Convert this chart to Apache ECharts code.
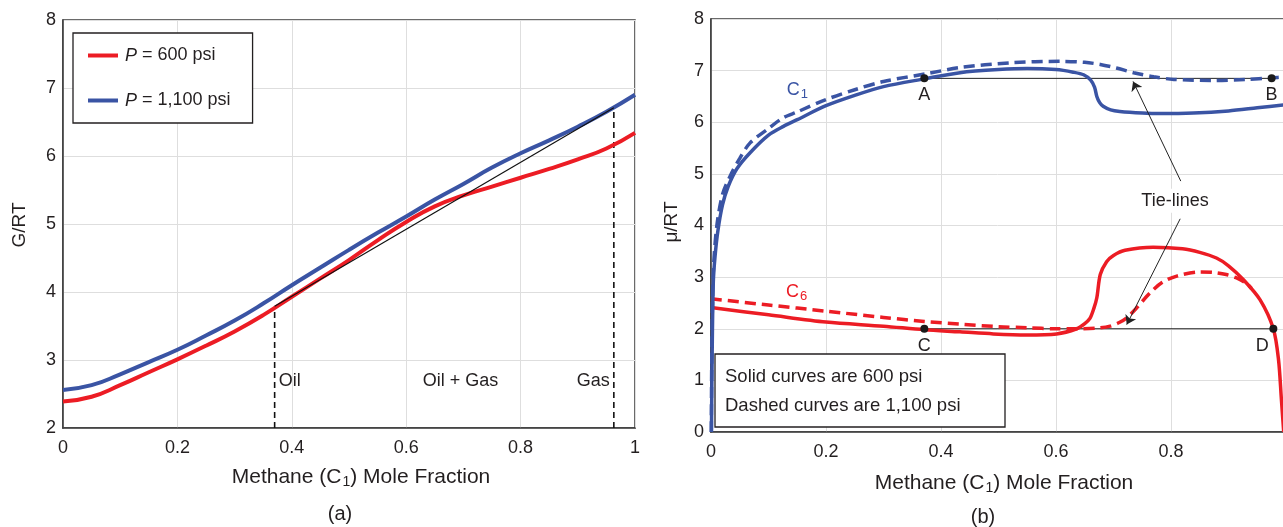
<!DOCTYPE html>
<html>
<head>
<meta charset="utf-8">
<script src="https://cdn.jsdelivr.net/npm/echarts@6/dist/echarts.min.js"></script>
<style>
html, body { margin: 0; padding: 0; background: #fff; }
#chart { width: 1283px; height: 527px; }
</style>
</head>
<body>
<div id="chart"></div>
<script>
// ---- (a) Gibbs energy of mixing, G/RT vs methane mole fraction ----
const gibbs600 = [
  [0, 2.39], [0.05, 2.46], [0.1, 2.63], [0.15, 2.82], [0.2, 3.01], [0.25, 3.21],
  [0.3, 3.42], [0.35, 3.66], [0.4, 3.93], [0.45, 4.20], [0.5, 4.47], [0.55, 4.76],
  [0.6, 5.03], [0.65, 5.26], [0.7, 5.42], [0.75, 5.55], [0.8, 5.68], [0.85, 5.81],
  [0.9, 5.95], [0.95, 6.11], [1.0, 6.34]
];
const gibbs1100 = [
  [0, 2.56], [0.05, 2.63], [0.1, 2.79], [0.15, 2.97], [0.2, 3.15], [0.25, 3.36],
  [0.3, 3.58], [0.35, 3.83], [0.4, 4.10], [0.45, 4.36], [0.5, 4.62], [0.55, 4.87],
  [0.6, 5.11], [0.65, 5.36], [0.7, 5.59], [0.75, 5.83], [0.8, 6.04], [0.85, 6.23],
  [0.9, 6.43], [0.95, 6.65], [1.0, 6.90]
];
const tangentLine = [[0.37, 3.79], [0.963, 6.71]];
const oilBoundary = [[0.37, 2], [0.37, 3.79]];
const gasBoundary = [[0.963, 2], [0.963, 6.71]];
const regionLabels = [
  { name: 'Oil', value: [0.37, 2.69], pos: 'right' },
  { name: 'Oil + Gas', value: [0.695, 2.69], pos: 'inside' },
  { name: 'Gas', value: [0.963, 2.69], pos: 'left' }
];

// ---- (b) chemical potentials, mu/RT vs methane mole fraction ----
const c1Solid = [
  [0.0008, 0], [0.002, 1.5], [0.004, 2.9], [0.007, 3.4], [0.012, 3.9], [0.02, 4.4],
  [0.03, 4.76], [0.045, 5.1], [0.068, 5.41], [0.1, 5.75], [0.126, 5.92], [0.15, 6.05],
  [0.2, 6.32], [0.25, 6.52], [0.3, 6.69], [0.371, 6.84], [0.433, 6.96], [0.5, 7.02],
  [0.55, 7.04], [0.6, 7.02], [0.63, 6.97], [0.648, 6.92], [0.66, 6.82], [0.667, 6.68],
  [0.671, 6.50], [0.676, 6.38], [0.682, 6.31], [0.695, 6.24], [0.711, 6.21], [0.75, 6.18],
  [0.781, 6.17], [0.839, 6.18], [0.9, 6.22], [0.95, 6.28], [1.0, 6.34]
];
const c1Dashed = [
  [0.0005, 0], [0.0015, 1.6], [0.004, 3.1], [0.01, 3.98], [0.02, 4.6], [0.033, 4.95],
  [0.05, 5.3], [0.068, 5.6], [0.1, 5.88], [0.126, 6.09], [0.15, 6.2], [0.2, 6.44],
  [0.25, 6.63], [0.3, 6.79], [0.375, 6.94], [0.433, 7.06], [0.52, 7.15], [0.607, 7.18],
  [0.65, 7.16], [0.677, 7.12], [0.705, 7.05], [0.735, 6.96], [0.77, 6.88], [0.805, 6.83],
  [0.874, 6.81], [0.93, 6.83], [0.975, 6.86], [1.0, 6.88]
];
const c6Solid = [
  [0, 2.41], [0.1, 2.27], [0.2, 2.13], [0.3, 2.05], [0.371, 1.98], [0.433, 1.94],
  [0.491, 1.9], [0.549, 1.88], [0.601, 1.9], [0.636, 2.0], [0.65, 2.1], [0.659, 2.2],
  [0.666, 2.4], [0.671, 2.6], [0.677, 3.05], [0.688, 3.3], [0.7, 3.42], [0.72, 3.52],
  [0.769, 3.58], [0.82, 3.55], [0.85, 3.48], [0.879, 3.37], [0.9, 3.22], [0.926, 2.95],
  [0.955, 2.56], [0.978, 2.0], [0.987, 1.4], [0.992, 0.63], [0.996, 0]
];
const c6Dashed = [
  [0, 2.58], [0.1, 2.46], [0.2, 2.34], [0.3, 2.22], [0.371, 2.14], [0.433, 2.09],
  [0.5, 2.04], [0.549, 2.02], [0.6, 2.0], [0.636, 2.0], [0.67, 2.01], [0.694, 2.05],
  [0.71, 2.12], [0.723, 2.21], [0.74, 2.4], [0.763, 2.69], [0.785, 2.9], [0.81, 3.02],
  [0.85, 3.10], [0.875, 3.09], [0.896, 3.05], [0.915, 2.98], [0.931, 2.88], [0.94, 2.78]
];
const tiePoints = [
  { name: 'A', value: [0.371, 6.85] },
  { name: 'B', value: [0.975, 6.85] },
  { name: 'C', value: [0.371, 2.0] },
  { name: 'D', value: [0.978, 2.0] }
];
const tieArrows = [
  [[0.817, 4.86], [0.734, 6.79]],
  [[0.816, 4.13], [0.723, 2.08]]
];
const componentLabels = [
  { name: 'C1', value: [0.15, 6.63], color: 'blue' },
  { name: 'C6', value: [0.149, 2.72], color: 'red' }
];
const tieText = { name: 'Tie-lines', value: [0.807, 4.48] };

const FONT = '"Liberation Sans", Arial, Helvetica, sans-serif';
const INK = '#231f20';
const RED = '#ec1c24';
const BLUE = '#3a54a4';
const GRID = '#dedede';
const TXT = 18;

const chart = echarts.init(document.getElementById('chart'), null, { renderer: 'canvas' });

function valueAxis(gridIndex, min, max, interval, isX, extraLabel) {
  return {
    gridIndex, type: 'value', min, max, interval,
    axisLine: { show: true, onZero: false, lineStyle: { color: '#3a3a3a', width: 1.5 } },
    axisTick: { show: false },
    splitLine: { show: true, lineStyle: { color: GRID, width: 1 } },
    axisLabel: Object.assign({ color: INK, fontSize: TXT, fontFamily: FONT, margin: isX ? 11 : 7,
      formatter: v => String(+v.toFixed(2)) }, extraLabel || {})
  };
}

const leftSeries = [
  { name: 'P = 600 psi', data: gibbs600, color: RED },
  { name: 'P = 1,100 psi', data: gibbs1100, color: BLUE }
].map(s => ({
  name: s.name, type: 'line', xAxisIndex: 0, yAxisIndex: 0, data: s.data,
  smooth: 0.5, showSymbol: false, color: s.color,
  lineStyle: { color: s.color, width: 4 }, z: 3
}));

const thin = (data, xi, extra) => Object.assign({
  type: 'line', xAxisIndex: xi, yAxisIndex: xi, data, showSymbol: false, silent: true,
  lineStyle: { color: '#111', width: 1.2 }, z: 2
}, extra || {});

const curve = (data, color, dashed) => ({
  type: 'line', xAxisIndex: 1, yAxisIndex: 1, data, smooth: 0.3,
  showSymbol: false, silent: true,
  lineStyle: { color, width: 3.5, type: dashed ? [11, 6] : 'solid', cap: 'butt' }, z: 3
});

const textItem = { itemStyle: { opacity: 1 } };

const option = {
  animation: false,
  backgroundColor: '#fff',
  grid: [
    { left: 63, top: 20, width: 572, height: 408, show: true, borderColor: '#3a3a3a', borderWidth: 1.5,
      outerBoundsMode: 'none' },
    { left: 711, top: 19, width: 575, height: 413, show: true, borderColor: '#3a3a3a', borderWidth: 1.5,
      outerBoundsMode: 'none' }
  ],
  xAxis: [valueAxis(0, 0, 1, 0.2, true), valueAxis(1, 0, 1, 0.2, true, { showMaxLabel: false })],
  yAxis: [valueAxis(0, 2, 8, 1, false), valueAxis(1, 0, 8, 1, false)],
  legend: {
    data: ['P = 600 psi', 'P = 1,100 psi'],
    orient: 'vertical', left: 73, top: 33,
    padding: [12, 22, 12, 15], itemGap: 24,
    itemWidth: 30, itemHeight: 4, icon: 'rect',
    borderColor: INK, borderWidth: 1.3, backgroundColor: '#fff',
    formatter: n => '{i|P}' + n.slice(1),
    textStyle: { color: INK, fontSize: TXT, fontFamily: FONT, lineHeight: 21,
      padding: [0, 0, 0, 2],
      rich: { i: { fontStyle: 'italic', fontSize: TXT, fontFamily: FONT, color: INK } } }
  },
  series: [
    ...leftSeries,
    thin(tangentLine, 0, { z: 4 }),
    thin(oilBoundary, 0, { lineStyle: { color: '#111', width: 1.6, type: [6, 4] } }),
    thin(gasBoundary, 0, { lineStyle: { color: '#111', width: 1.6, type: [6, 4] } }),
    Object.assign({
      type: 'scatter', xAxisIndex: 0, yAxisIndex: 0, symbolSize: 0, silent: true,
      data: regionLabels.map(d => ({ name: d.name, value: d.value,
        label: { position: d.pos, distance: 4 } })),
      label: { show: true, formatter: p => p.name, color: INK, fontSize: TXT, fontFamily: FONT }
    }, textItem),

    // tie-lines (drawn below the curves)
    thin([tiePoints[0].value, tiePoints[1].value], 1, { lineStyle: { color: '#222', width: 1 } }),
    thin([tiePoints[2].value, tiePoints[3].value], 1, { lineStyle: { color: '#222', width: 1 } }),

    curve(c6Solid, RED, false),
    curve(c6Dashed, RED, true),
    curve(c1Solid, BLUE, false),
    curve(c1Dashed, BLUE, true),

    {
      type: 'scatter', xAxisIndex: 1, yAxisIndex: 1, symbolSize: 8, silent: true, z: 6,
      itemStyle: { color: '#1a1a1a', opacity: 1 },
      data: tiePoints.map(d => ({ name: d.name, value: d.value,
        label: d.name === 'D' ? { offset: [-11, 0] } : {} })),
      label: { show: true, position: 'bottom', distance: 4, formatter: p => p.name,
        color: INK, fontSize: TXT, fontFamily: FONT }
    },
    {
      type: 'lines', coordinateSystem: 'cartesian2d', xAxisIndex: 1, yAxisIndex: 1, silent: true, z: 6,
      symbol: ['none', 'arrow'], symbolSize: 9,
      lineStyle: { color: '#222', width: 1, opacity: 1 },
      data: tieArrows.map(c => ({ coords: c }))
    },
    Object.assign({
      type: 'scatter', xAxisIndex: 1, yAxisIndex: 1, symbolSize: 0, silent: true, z: 6,
      data: [tieText],
      label: { show: true, position: 'inside', formatter: p => p.name,
        color: INK, fontSize: TXT, fontFamily: FONT, backgroundColor: '#fff', padding: [3, 4] }
    }, textItem),
    Object.assign({
      type: 'scatter', xAxisIndex: 1, yAxisIndex: 1, symbolSize: 0, silent: true, z: 6,
      data: componentLabels.map(d => ({ name: d.name, value: d.value,
        label: { color: d.color === 'blue' ? BLUE : RED,
          rich: { s: { fontSize: 13, fontFamily: FONT, color: d.color === 'blue' ? BLUE : RED,
            padding: [10, 0, 0, 1] } } } })),
      label: { show: true, position: 'inside', fontSize: TXT, fontFamily: FONT,
        formatter: p => 'C{s|' + p.name.slice(1) + '}' }
    }, textItem)
  ],
  graphic: [
    { type: 'text', z: 50, style: { text: 'G/RT', x: 0, y: 0, fill: INK, fontSize: 19, fontFamily: FONT,
      align: 'center', verticalAlign: 'middle', textAlign: 'center', textVerticalAlign: 'middle' },
      x: 19.5, y: 225, rotation: Math.PI / 2 },
    { type: 'text', z: 50, style: { text: '\u03bc/RT', x: 0, y: 0, fill: INK, fontSize: 19, fontFamily: FONT,
      align: 'center', verticalAlign: 'middle', textAlign: 'center', textVerticalAlign: 'middle' },
      x: 672, y: 222, rotation: Math.PI / 2 },
    { type: 'text', z: 50, style: { text: 'Methane (C{s|1}) Mole Fraction', x: 361, y: 477, fill: INK,
      fontSize: 21, fontFamily: FONT, align: 'center', verticalAlign: 'middle',
      textAlign: 'center', textVerticalAlign: 'middle',
      rich: { s: { fontSize: 14, fontFamily: FONT, fill: INK, padding: [11, 0, 0, 1] } } } },
    { type: 'text', z: 50, style: { text: 'Methane (C{s|1}) Mole Fraction', x: 1004, y: 483, fill: INK,
      fontSize: 21, fontFamily: FONT, align: 'center', verticalAlign: 'middle',
      textAlign: 'center', textVerticalAlign: 'middle',
      rich: { s: { fontSize: 14, fontFamily: FONT, fill: INK, padding: [11, 0, 0, 1] } } } },
    { type: 'text', z: 50, style: { text: '(a)', x: 340, y: 514, fill: INK, fontSize: 20, fontFamily: FONT,
      align: 'center', verticalAlign: 'middle', textAlign: 'center', textVerticalAlign: 'middle' } },
    { type: 'text', z: 50, style: { text: '(b)', x: 983, y: 517, fill: INK, fontSize: 20, fontFamily: FONT,
      align: 'center', verticalAlign: 'middle', textAlign: 'center', textVerticalAlign: 'middle' } },
    { type: 'rect', z: 40, shape: { x: 715, y: 354, width: 290, height: 73 },
      style: { fill: '#fff', stroke: INK, lineWidth: 1.3 } },
    { type: 'text', z: 50, style: { text: 'Solid curves are 600 psi', x: 725, y: 377, fill: INK,
      fontSize: 18.5, fontFamily: FONT, align: 'left', verticalAlign: 'middle',
      textAlign: 'left', textVerticalAlign: 'middle' } },
    { type: 'text', z: 50, style: { text: 'Dashed curves are 1,100 psi', x: 725, y: 406, fill: INK,
      fontSize: 18.5, fontFamily: FONT, align: 'left', verticalAlign: 'middle',
      textAlign: 'left', textVerticalAlign: 'middle' } }
  ]
};

chart.setOption(option);
</script>
</body>
</html>
